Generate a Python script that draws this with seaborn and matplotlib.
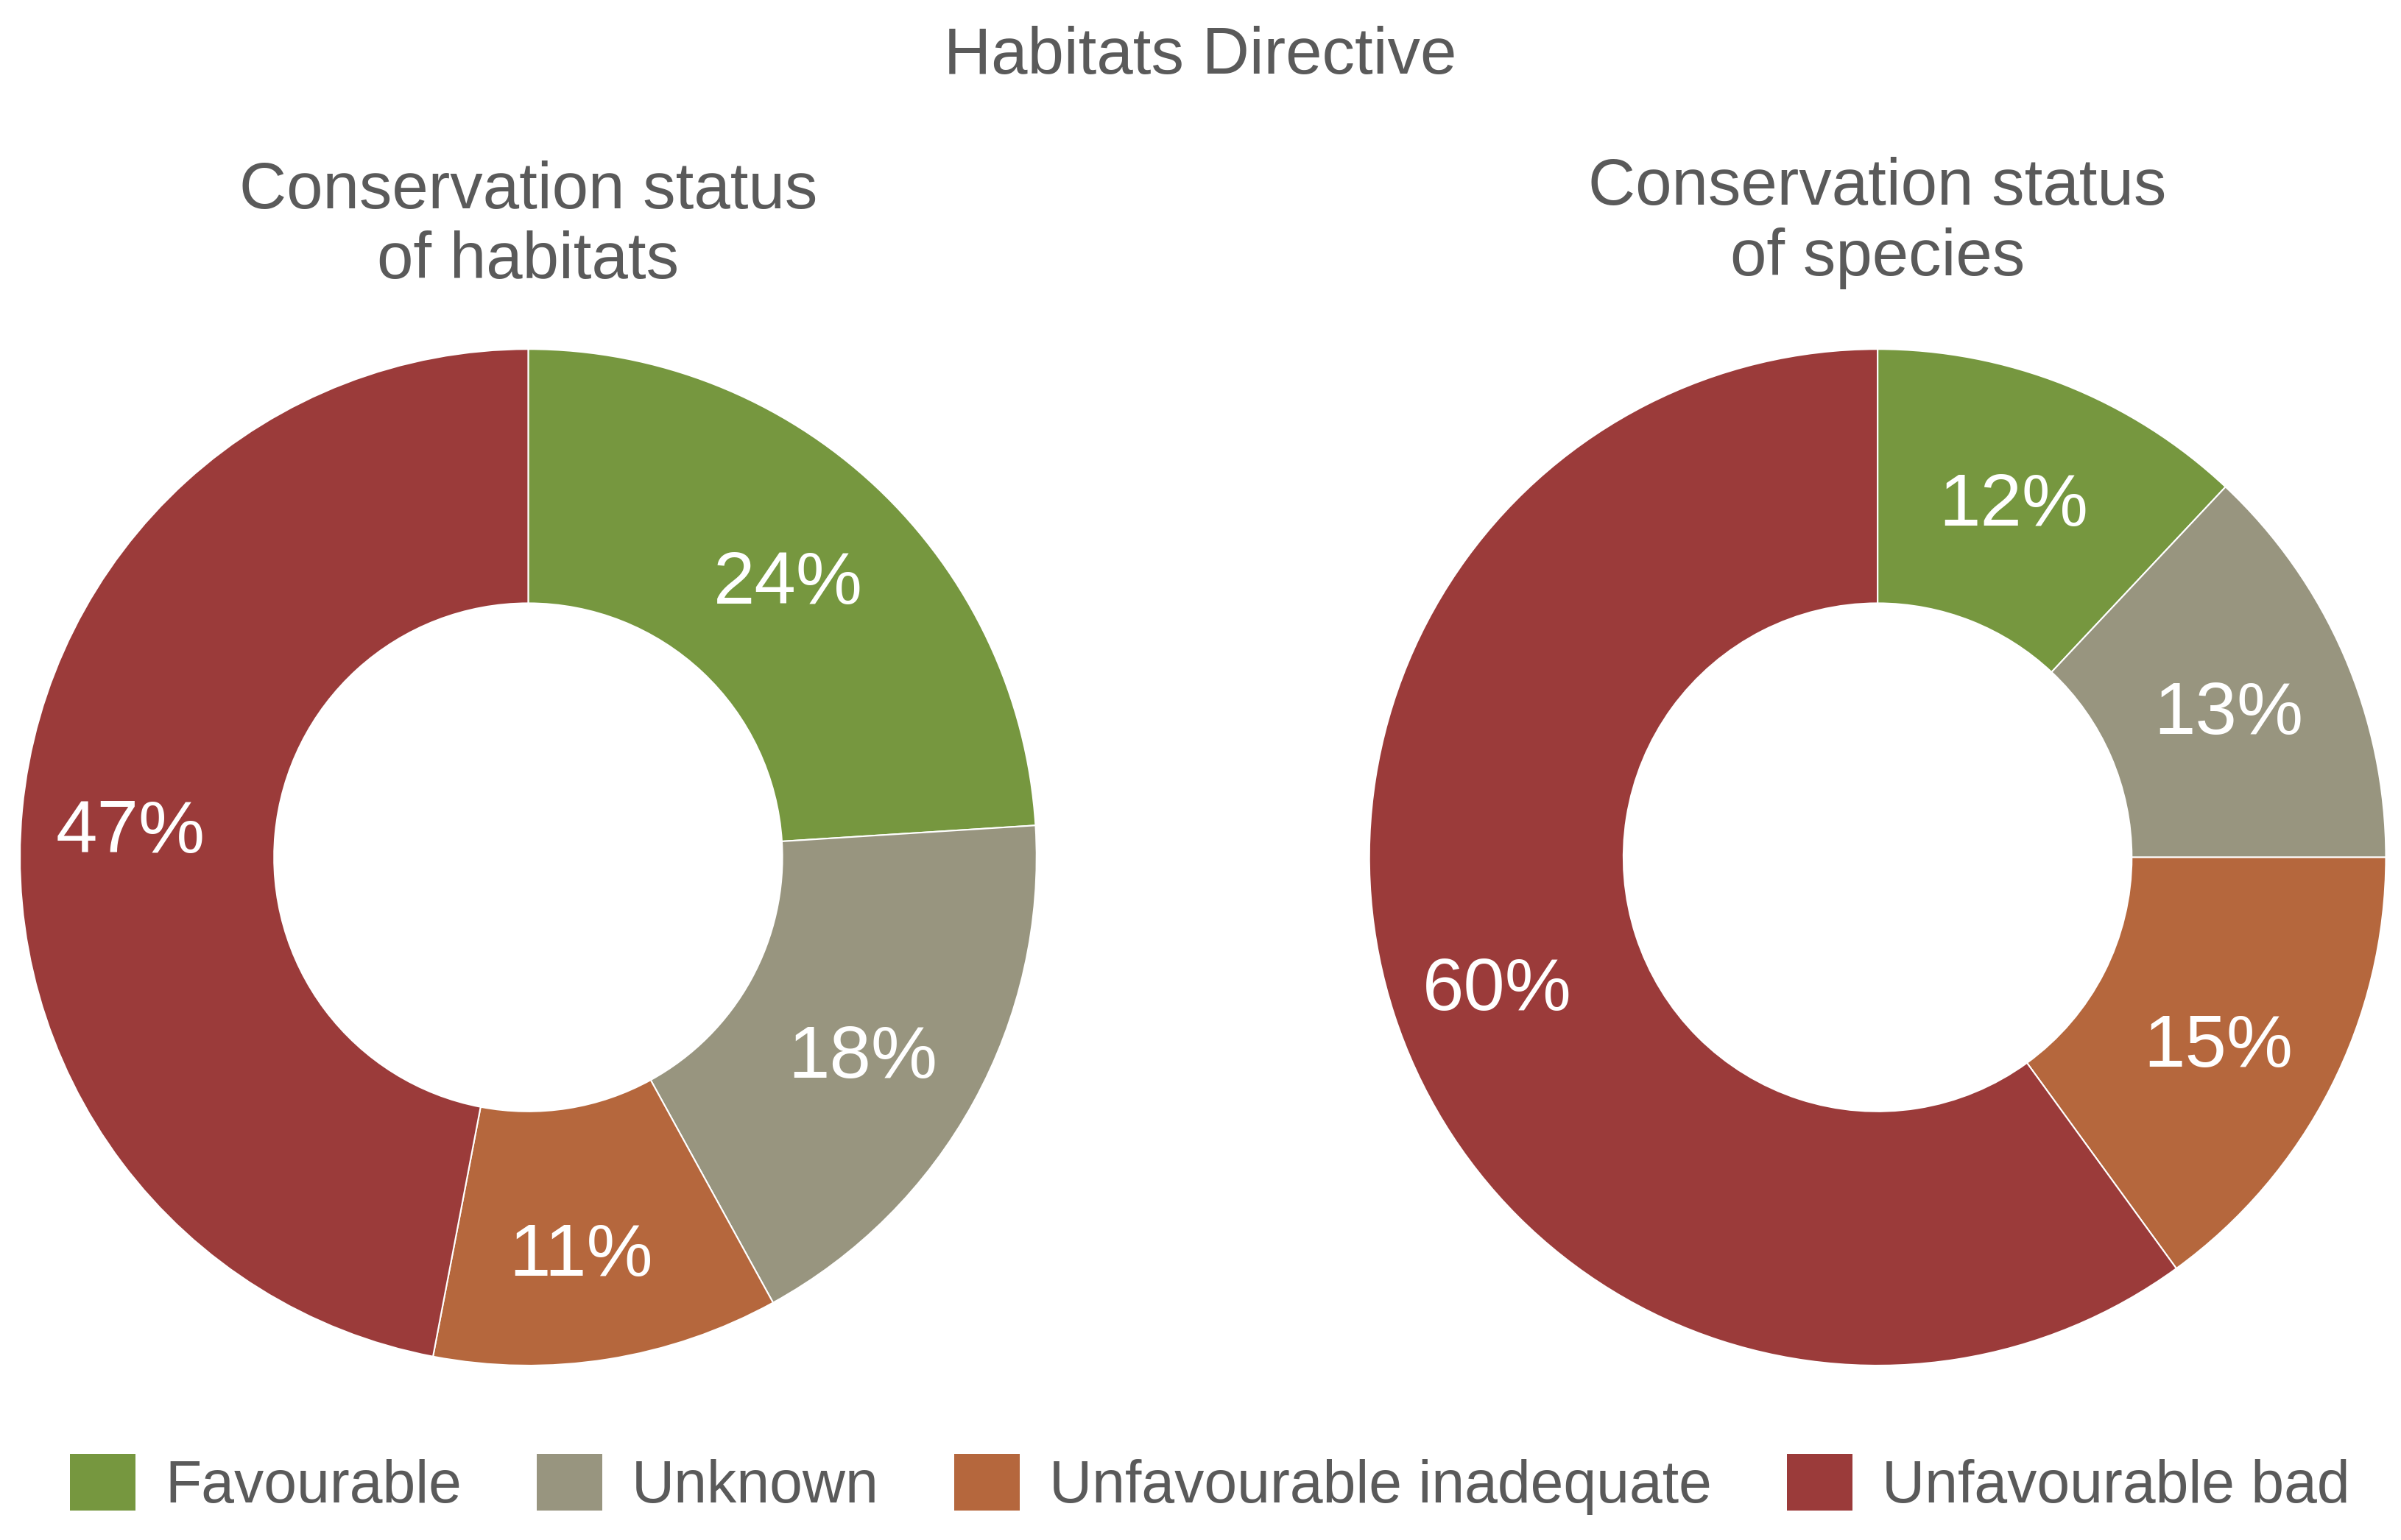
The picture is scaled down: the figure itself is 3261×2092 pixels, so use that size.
"""Habitats Directive: conservation status donuts."""

import seaborn as sns
import matplotlib.pyplot as plt
from matplotlib.patches import Patch

sns.set_theme(style="white")
plt.rcParams['font.family'] = ['Liberation Sans', 'DejaVu Sans']

# ── data ──────────────────────────────────────────
categories = ['Favourable', 'Unknown', 'Unfavourable inadequate', 'Unfavourable bad']
habitats = [24, 18, 11, 47]
species = [12, 13, 15, 60]
titles = ['Conservation status\nof habitats', 'Conservation status\nof species']

colors = ['#76973F', '#98957F', '#B5673D', '#9B3B3A']
text_col = '#5a5a5a'

fig = plt.figure(figsize=(32.61, 20.92), dpi=100)

centers = [(0.220, 0.4433), (0.782, 0.4433)]
rx, ry = 0.2117, 0.330

for (cx, cy), vals, title, ty in zip(centers, [habitats, species], titles, [0.853, 0.855]):
    ax = fig.add_axes([cx - rx, cy - ry, 2 * rx, 2 * ry])
    wedges, texts, autotexts = ax.pie(
        vals, colors=colors, startangle=90, counterclock=False, radius=1,
        autopct='%d%%', pctdistance=0.77,
        wedgeprops=dict(width=0.5, edgecolor='white', linewidth=1.5),
        textprops=dict(color='white', fontsize=73),
    )
    # labels sit a touch low-left in the original
    for t in autotexts:
        x, y = t.get_position()
        t.set_position((x - 0.016, y - 0.025))
    ax.set_xlim(-1, 1)
    ax.set_ylim(-1, 1)
    ax.set_aspect('equal')
    ax.axis('off')
    fig.text(cx, ty, title, ha='center', va='center', fontsize=64,
             color=text_col, linespacing=1.18)

fig.text(0.5, 0.963, 'Habitats Directive', ha='center', va='center',
         fontsize=64, color=text_col)

handles = [Patch(facecolor=c, edgecolor='none') for c in colors]
leg = fig.legend(
    handles, categories, loc='center', bbox_to_anchor=(0.504, 0.036),
    ncol=4, frameon=False, fontsize=58, handlelength=1.1, handleheight=1.1,
    handletextpad=0.5, columnspacing=1.27,
)
for t in leg.get_texts():
    t.set_color(text_col)

plt.savefig('out.png', dpi=100, facecolor='white')
plt.close()
